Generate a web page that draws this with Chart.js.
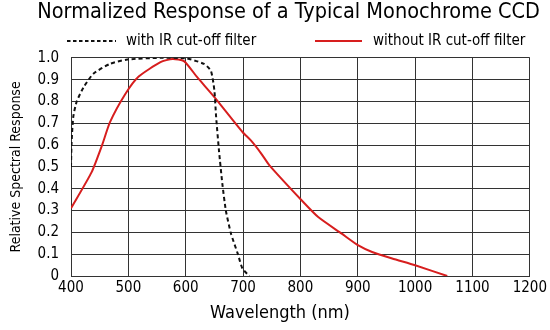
<!DOCTYPE html>
<html>
<head>
<meta charset="utf-8">
<script src="https://cdn.jsdelivr.net/npm/chart.js@4"></script>
<style>
  html, body { margin: 0; padding: 0; background: #fff; }
  #wrap { width: 550px; height: 330px; }
</style>
</head>
<body>
<div id="wrap"><canvas id="ccdChart" width="550" height="330"></canvas></div>
<script>
// wavelength (nm) / relative response
const withFilterWl = [400, 401, 404, 410, 422, 439, 468, 498, 556, 600, 632, 644, 650, 653, 658, 664, 670, 679, 691, 699, 711];
const withFilterResp = [0.50, 0.61, 0.73, 0.80, 0.865, 0.927, 0.972, 0.992, 1.0, 0.998, 0.972, 0.94, 0.85, 0.73, 0.575, 0.42, 0.30, 0.194, 0.10, 0.034, 0.0];

const withoutFilterWl = [400, 436, 454, 468, 495, 518, 556, 577, 597, 620, 650, 699, 714, 732, 746, 802, 831, 872, 901, 925, 960, 1000, 1056];
const withoutFilterResp = [0.31, 0.476, 0.598, 0.705, 0.835, 0.914, 0.98, 0.995, 0.985, 0.911, 0.82, 0.66, 0.62, 0.56, 0.507, 0.347, 0.27, 0.194, 0.14, 0.11, 0.08, 0.049, 0.0];

const xTicks = [400, 500, 600, 700, 800, 900, 1000, 1100, 1200];
const yTicks = [0, 0.1, 0.2, 0.3, 0.4, 0.5, 0.6, 0.7, 0.8, 0.9, 1.0];

const FONT = "'DejaVu Sans Condensed', 'Liberation Sans Narrow', sans-serif";

const toPoints = (xs, ys) => xs.map((x, i) => ({ x: x, y: ys[i] }));

const data = {
  datasets: [
    {
      label: "with IR cut-off filter",
      data: toPoints(withFilterWl, withFilterResp),
      borderColor: "#111",
      borderWidth: 2,
      borderDash: [4, 3],
      pointRadius: 0,
      tension: 0.2,
    },
    {
      label: "without IR cut-off filter",
      data: toPoints(withoutFilterWl, withoutFilterResp),
      borderColor: "rgb(215, 30, 30)",
      borderWidth: 2,
      pointRadius: 0,
      tension: 0.2,
    },
  ],
};

// legend sits wide apart in the original, so draw it by hand
// also the x title, which is a bit left of the plot centre
const extras = {
  id: "extras",
  afterDraw(chart) {
    const c = chart.ctx;
    const slots = [
      { x0: 67, x1: 116, tx: 126 },
      { x0: 315, x1: 362, tx: 373 },
    ];
    c.save();
    c.font = "15px " + FONT;
    c.textBaseline = "middle";
    c.fillStyle = "#000";
    chart.data.datasets.forEach((ds, i) => {
      const s = slots[i];
      c.beginPath();
      c.setLineDash(ds.borderDash ? [3.5, 2.5] : []);
      c.lineWidth = 2;
      c.strokeStyle = ds.borderColor;
      c.moveTo(s.x0, 41);
      c.lineTo(s.x1, 41);
      c.stroke();
      c.setLineDash([]);
      c.textAlign = "left";
      c.fillText(ds.label, s.tx, 41);
    });
    c.font = "18px " + FONT;
    c.textAlign = "center";
    c.fillText("Wavelength (nm)", 280, 313);
    c.restore();
  },
};

const config = {
  type: "line",
  data: data,
  options: {
    responsive: false,
    maintainAspectRatio: false,
    animation: false,
    layout: { padding: { left: 0, right: 10, top: 0, bottom: 0 } },
    plugins: {
      title: {
        display: true,
        text: "Normalized Response of a Typical Monochrome CCD",
        color: "#000",
        font: { family: FONT, size: 21.5, weight: "normal" },
        padding: { top: 0, bottom: 32 },
        align: "end",
      },
      legend: { display: false },
      tooltip: { enabled: false },
    },
    scales: {
      x: {
        type: "linear",
        min: 400,
        max: 1200,
        afterBuildTicks: (s) => { s.ticks = xTicks.map((v) => ({ value: v })); },
        afterFit: (s) => { s.height = 54; },
        ticks: {
          color: "#000",
          font: { family: FONT, size: 15 },
          padding: 3,
          autoSkip: false,
          maxRotation: 0,
          callback: (v) => String(v),
        },
        grid: { color: "#333", lineWidth: 1, drawTicks: false },
        border: { color: "#333", width: 1 },
      },
      y: {
        min: 0,
        max: 1,
        afterBuildTicks: (s) => { s.ticks = yTicks.map((v) => ({ value: v })); },
        afterFit: (s) => { s.width = 71; },
        ticks: {
          color: "#000",
          font: { family: FONT, size: 15 },
          padding: 12,
          autoSkip: false,
          callback: (v) => (v === 0 ? "0" : v.toFixed(1)),
        },
        grid: { color: "#333", lineWidth: 1, drawTicks: false },
        border: { color: "#333", width: 1 },
        title: {
          display: true,
          text: "Relative Spectral Response",
          color: "#000",
          font: { family: FONT, size: 14 },
          padding: { top: 8, bottom: 0 },
        },
      },
    },
  },
  plugins: [extras],
};

const ctx = document.getElementById("ccdChart").getContext("2d");
new Chart(ctx, config);
</script>
</body>
</html>
